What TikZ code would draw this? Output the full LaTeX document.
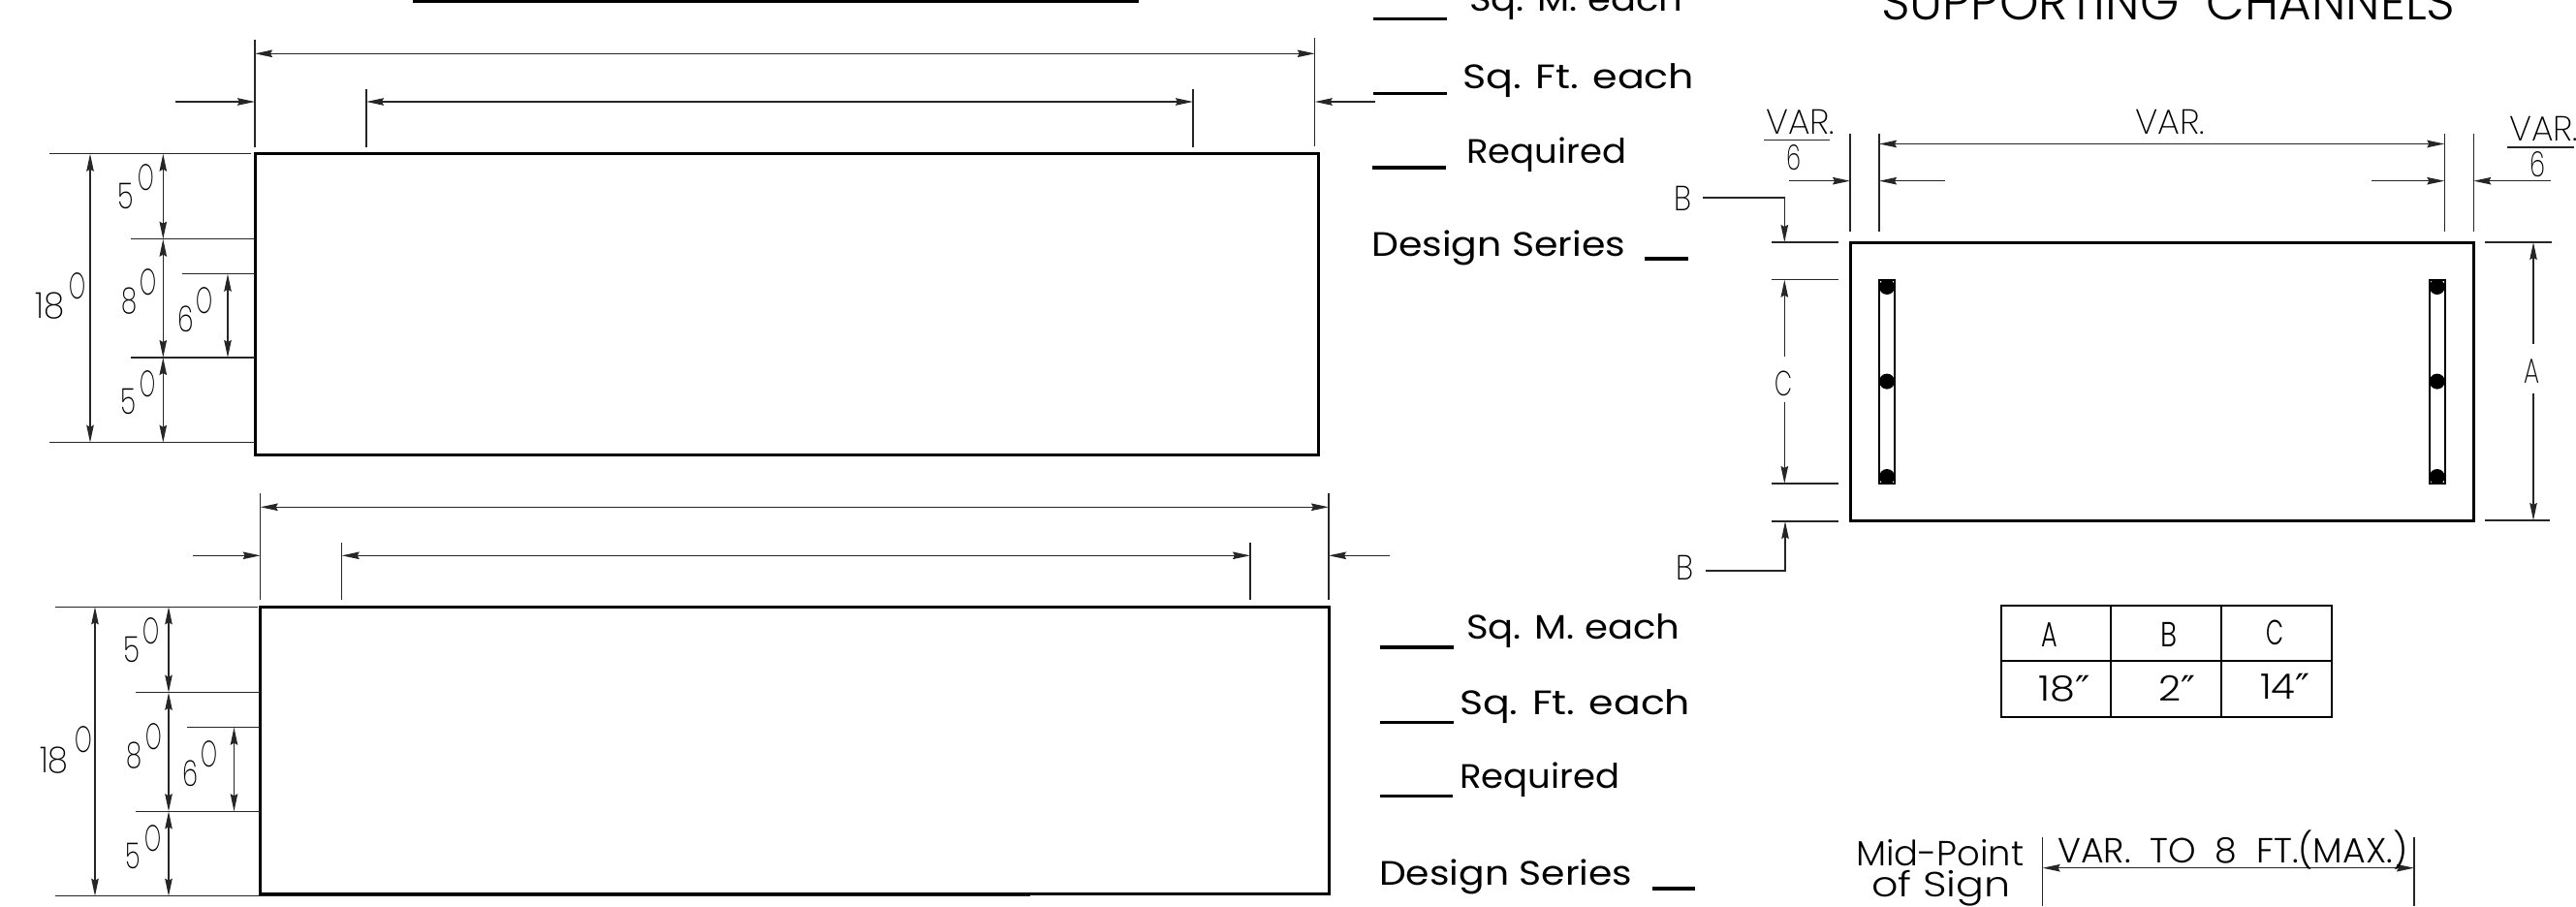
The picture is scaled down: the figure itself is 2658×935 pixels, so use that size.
\documentclass[tikz,border=0pt]{standalone}
\usepackage{fontspec}
\usepackage{graphicx}
\usetikzlibrary{arrows.meta}
\newfontfamily\ltf{Poppins Light}
\newfontfamily\xlf{Poppins ExtraLight}
\newfontfamily\rgf{Poppins}
\newfontfamily\djf{DejaVu Sans}
\newcommand\lbl[6]{\node[anchor=base west,inner sep=0pt] (#1) at (#2,#4) {\resizebox{\dimexpr#3pt-#2pt\relax}{\height}{#5#6}};}
\newcommand\dg{\xlf\fontsize{37}{37}\selectfont}
\newcommand\oo{\xlf\fontsize{38}{38}\selectfont}
\newcommand\bk{\rgf\fontsize{35}{35}\selectfont}
\newcommand\md{\ltf\fontsize{36}{36}\selectfont}
\newcommand\thn{\xlf\fontsize{36}{36}\selectfont}
\newcommand\tl{\ltf\fontsize{52}{52}\selectfont}
\newcommand\dq{{\djf\char"2033}}
\tikzset{
  thin line/.style={line width=1.4pt,draw=black!85},
  heavy/.style={line width=3pt,draw=black},
  rule/.style={line width=3.4pt,draw=black},
  dim/.style={thin line,{Stealth[length=18pt,width=7.5pt,inset=2pt]}-{Stealth[length=18pt,width=7.5pt,inset=2pt]}},
  ldr/.style={thin line,-{Stealth[length=18pt,width=7.5pt,inset=2pt]}}
}
\begin{document}
\begin{tikzpicture}[x=1pt,y=-1pt]
\useasboundingbox (0,0) rectangle (2658,935);
% top bar
\draw[line width=5pt] (426,0) -- (1175,0);
% ===== top-left panel
\draw[heavy] (263.4,158.7) rectangle (1360,469.3);
\draw[thin line] (263,41)--(263,152);
\draw[thin line] (1356.7,39)--(1356.7,151);
\draw[dim] (263,55.3)--(1356.7,55.3);
\draw[thin line] (378,92)--(378,152);
\draw[thin line] (1231,92)--(1231,152);
\draw[dim] (378,105)--(1231,105);
\draw[ldr] (181,105)--(263,105);
\draw[ldr] (1419,105)--(1356.7,105);
\draw[thin line] (51,158.7)--(259,158.7);
\draw[thin line] (135,246.7)--(263,246.7);
\draw[thin line] (187.5,282.7)--(263,282.7);
\draw[thin line] (135,369)--(263,369);
\draw[thin line] (51,456.7)--(263,456.7);
\draw[dim] (93,158.7)--(93,456.7);
\draw[dim] (168.3,158.7)--(168.3,246.7);
\draw[dim] (168.3,246.7)--(168.3,369);
\draw[dim] (168.3,369)--(168.3,456.7);
\draw[dim] (235,282.7)--(235,369);
\lbl{ta}{36}{66}{328}{\dg}{18}
\lbl{tao}{71}{88}{308}{\oo}{O}
\lbl{tb}{121}{137.5}{215}{\dg}{5}
\lbl{tbo}{142}{158.5}{196}{\oo}{O}
\lbl{tc}{125}{141}{323}{\dg}{8}
\lbl{tco}{144}{161}{304}{\oo}{O}
\lbl{td}{183}{199.5}{342}{\dg}{6}
\lbl{tdo}{202}{219}{323}{\oo}{O}
\lbl{te}{124}{140}{427}{\dg}{5}
\lbl{teo}{144}{160}{409}{\oo}{O}
% ===== bottom-left panel
\draw[heavy] (268.7,626.3) rectangle (1371,922.7);
\draw[thin line] (268.7,509.3)--(268.7,619.3);
\draw[thin line] (1371,509.3)--(1371,619.3);
\draw[dim] (268.7,523.3)--(1371,523.3);
\draw[thin line] (352.7,560)--(352.7,619.3);
\draw[thin line] (1290,560)--(1290,619.3);
\draw[dim] (352.7,573.3)--(1290,573.3);
\draw[ldr] (199,573.3)--(268.7,573.3);
\draw[ldr] (1434,573.3)--(1371,573.3);
\draw[thin line] (57,626.3)--(266,626.3);
\draw[thin line] (140,714.7)--(268,714.7);
\draw[thin line] (193,750.7)--(268,750.7);
\draw[thin line] (140,837.3)--(268,837.3);
\draw[thin line] (57,924.7)--(1063,924.7);
\draw[dim] (98,626.3)--(98,924.7);
\draw[dim] (174,626.3)--(174,714.7);
\draw[dim] (174,714.7)--(174,837.3);
\draw[dim] (174,837.3)--(174,924.7);
\draw[dim] (241.5,750.7)--(241.5,837.3);
\lbl{ba}{41}{70.5}{797}{\dg}{18}
\lbl{bao}{77}{94.6}{776}{\oo}{O}
\lbl{bb}{127}{144}{683}{\dg}{5}
\lbl{bbo}{147}{164}{664}{\oo}{O}
\lbl{bc}{130}{146}{792}{\dg}{8}
\lbl{bco}{150}{166.5}{773}{\oo}{O}
\lbl{bd}{188}{204}{811}{\dg}{6}
\lbl{bdo}{207.6}{224.5}{791}{\oo}{O}
\lbl{be}{129.5}{145}{896}{\dg}{5}
\lbl{beo}{149}{166}{878}{\oo}{O}
% ===== labels top
\draw[rule] (1416.7,19.7)--(1492.7,19.7);
\draw[rule] (1416.7,96.7)--(1492.7,96.7);
\draw[rule] (1416,173)--(1492,173);
\draw[rule] (1697,267)--(1742,267);
\lbl{l1}{1516}{1736}{11.7}{\bk}{Sq. M. each}
\lbl{l2}{1509}{1748}{91.7}{\bk}{Sq. Ft. each}
\lbl{l3}{1513}{1678}{168}{\bk}{Required}
\lbl{l4}{1415}{1677}{264}{\bk}{Design Series}
% ===== labels bottom
\draw[rule] (1424,668)--(1500,668);
\draw[rule] (1424,745.7)--(1500,745.7);
\draw[rule] (1423.5,821.7)--(1499,821.7);
\draw[rule] (1705,917)--(1749,917);
\lbl{m1}{1513}{1733}{659}{\bk}{Sq. M. each}
\lbl{m2}{1506}{1744}{737}{\bk}{Sq. Ft. each}
\lbl{m3}{1506}{1671}{813}{\bk}{Required}
\lbl{m4}{1423}{1684}{913}{\bk}{Design Series}
% ===== section
\lbl{title}{1941}{2533}{20}{\tl}{SUPPORTING\ \ CHANNELS}
\draw[heavy] (1909,250) rectangle (2552.7,537);
\foreach \x in {1909,1939,2522.3,2552.3}{\draw[thin line] (\x,137.5)--(\x,238.7);}
\draw[dim] (1939,148.5)--(2522.3,148.5);
\draw[ldr] (1846,186.7)--(1909,186.7);
\draw[ldr] (2007,186.7)--(1939,186.7);
\draw[ldr] (2447,186.7)--(2522.3,186.7);
\draw[ldr] (2632,186.7)--(2552.3,186.7);
\lbl{v1}{1822}{1893}{138}{\thn}{VAR.}
\draw[thin line] (1820,144.7)--(1888,144.7);
\lbl{v2}{1843}{1858}{175}{\thn}{6}
\lbl{v3}{2203}{2275}{138.6}{\thn}{VAR.}
\lbl{v4}{2589}{2660}{145}{\thn}{VAR.}
\draw[thin line] (2587,151.8)--(2656,151.8);
\lbl{v5}{2610}{2626}{182}{\thn}{6}
% B, C dims
\lbl{bt}{1727}{1745}{217}{\thn}{B}
\lbl{bb2}{1729}{1747}{598}{\thn}{B}
\draw[ldr] (1757,204)--(1841.3,204)--(1841.3,250);
\draw[ldr] (1760,589)--(1842,589)--(1842,538);
\draw[thin line] (1828,250)--(1897,250);
\draw[thin line] (1828,288.7)--(1897,288.7);
\draw[thin line] (1828,499)--(1897,499);
\draw[thin line] (1828,538)--(1897,538);
\draw[ldr] (1841.3,367.7)--(1841.3,288.7);
\draw[ldr] (1841.3,415)--(1841.3,499);
\lbl{cc}{1831}{1849}{408}{\thn}{C}
% A dim
\draw[thin line] (2564,250)--(2633,250);
\draw[thin line] (2564,537)--(2631,537);
\draw[ldr] (2614,355)--(2614,250);
\draw[ldr] (2614,406)--(2614,537);
\lbl{aa}{2604}{2620}{395}{\thn}{A}
% channels
\foreach \cx in {1947,2514.7}{
  \begin{scope}
    \clip (\cx-8,288) rectangle (\cx+8,499);
    \foreach \cy in {296,393.6,492}{\fill (\cx,\cy) circle (8);}
  \end{scope}
  \draw[line width=2pt] (\cx-8,288.5) rectangle (\cx+8,499);
}
% table
\draw[line width=2.4pt] (2064.7,625) rectangle (2405.8,740);
\draw[line width=2pt] (2064.7,682)--(2405.8,682);
\draw[line width=2pt] (2178,625)--(2178,740);
\draw[line width=2pt] (2292,625)--(2292,740);
\lbl{ha}{2106.7}{2123.3}{667}{\md}{A}
\lbl{hb}{2229}{2246}{667}{\md}{B}
\lbl{hc}{2338}{2356}{665.7}{\md}{C}
\lbl{va}{2103.6}{2157}{723}{\md}{18\dq}
\lbl{vb}{2227}{2265}{723}{\md}{2\dq}
\lbl{vc}{2332}{2383.5}{721.7}{\md}{14\dq}
% mid-point
\lbl{mp}{1915}{2088}{893}{\md}{Mid-Point}
\lbl{os}{1931}{2074.5}{925}{\md}{of Sign}
\draw[thin line] (2107.6,864)--(2107.6,935);
\draw[thin line] (2491,864)--(2491,935);
\draw[dim] (2107.6,895.7)--(2491,895.7);
\lbl{vt}{2123}{2484}{890}{\md}{VAR.\ \ TO\ \ 8\ \ FT.(MAX.)}
\end{tikzpicture}
\end{document}
